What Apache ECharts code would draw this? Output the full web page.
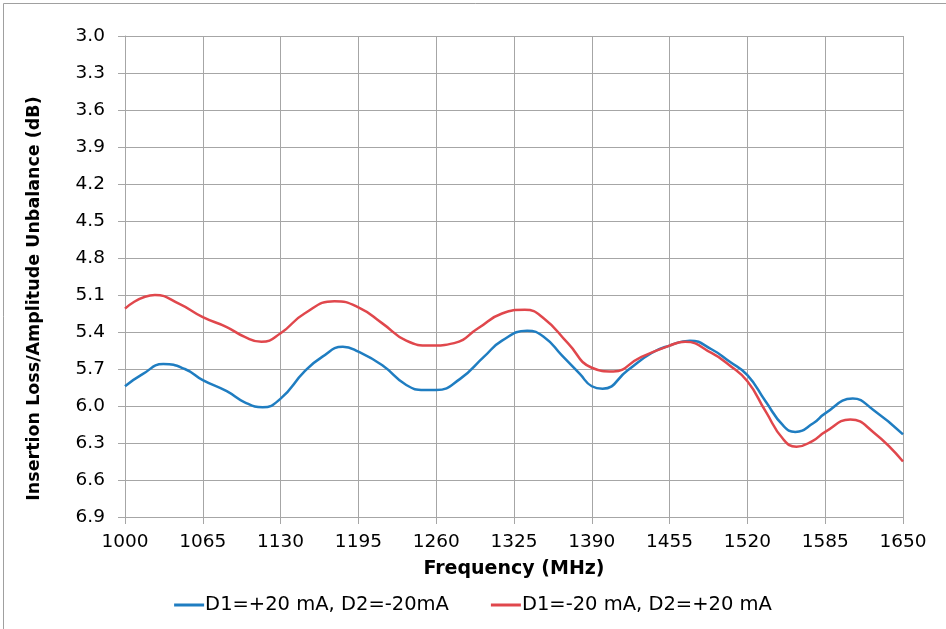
<!DOCTYPE html>
<html><head><meta charset="utf-8">
<script src="https://cdn.jsdelivr.net/npm/echarts@6/dist/echarts.min.js"></script>
<style>html,body{margin:0;padding:0;background:#fff}#c{width:946px;height:629px}</style>
</head><body><div id="c"></div>
<script>
const seriesNames = ['D1=+20 mA, D2=-20mA', 'D1=-20 mA, D2=+20 mA'];
const blueFreq = [1000,1015,1032,1050,1065,1085,1100,1115,1130,1150,1165,1182,1195,1215,1235,1250,1260,1280,1300,1315,1336,1350,1365,1380,1390,1399,1420,1440,1455,1472,1490,1505,1520,1535,1550,1560,1575,1585,1608,1625,1650];
const blueVals = [5.84,5.74,5.66,5.70,5.79,5.88,5.97,6.01,5.94,5.72,5.60,5.52,5.56,5.67,5.83,5.87,5.87,5.78,5.60,5.47,5.39,5.44,5.59,5.74,5.84,5.86,5.71,5.57,5.51,5.47,5.54,5.64,5.75,5.96,6.16,6.21,6.14,6.06,5.94,6.03,6.23];
const redFreq = [1000,1025,1045,1065,1085,1100,1114,1130,1150,1175,1195,1215,1235,1255,1275,1295,1315,1334,1350,1370,1390,1408,1430,1455,1468,1490,1505,1520,1535,1550,1561,1575,1585,1606,1625,1650];
const redVals = [5.21,5.10,5.17,5.28,5.36,5.44,5.48,5.41,5.25,5.15,5.20,5.33,5.47,5.51,5.49,5.37,5.25,5.22,5.29,5.49,5.69,5.72,5.61,5.51,5.48,5.57,5.67,5.80,6.04,6.27,6.33,6.28,6.21,6.11,6.21,6.45];
const xMin = 1000, xMax = 1650, xStep = 65;
const yMin = 3.0, yMax = 6.9, yStep = 0.3;

const chart = echarts.init(document.getElementById('c'));
const font = 'Verdana, "DejaVu Sans", sans-serif';
const gridCol = '#a6a6a6';
chart.setOption({
  animation: false,
  backgroundColor: '#fff',
  graphic: [{type:'rect', shape:{x:3.5,y:3.5,width:960,height:640}, style:{fill:'none', stroke:'#a0a0a0', lineWidth:1}}],
  grid: {left:125, right:43, top:36, bottom:112, containLabel:false},
  legend: {
    bottom: 9, left: 'center', itemGap: 42, itemWidth: 30, itemHeight: 3, icon: 'rect',
    textStyle: {fontFamily: font, fontSize: 19.5, color: '#000', padding: [0,0,0,-4]},
    data: seriesNames
  },
  xAxis: {
    type: 'value', min: xMin, max: xMax, interval: xStep,
    name: 'Frequency (MHz)', nameLocation: 'middle', nameGap: 43,
    nameTextStyle: {fontFamily: font, fontSize: 19, fontWeight: 'bold', color: '#000'},
    axisLine: {lineStyle: {color: gridCol}},
    axisTick: {show: true, length: 7, lineStyle: {color: gridCol}},
    axisLabel: {fontFamily: font, fontSize: 18.5, color: '#000', margin: 16, formatter: v => String(v)},
    splitLine: {show: true, lineStyle: {color: gridCol, width: 1}}
  },
  yAxis: {
    type: 'value', inverse: true, min: yMin, max: yMax, interval: yStep,
    name: 'Insertion Loss/Amplitude Unbalance (dB)', nameLocation: 'middle', nameGap: 82,
    nameTextStyle: {fontFamily: font, fontSize: 17.5, fontWeight: 'bold', color: '#000', padding: [0, 44, 0, 0]},
    axisLine: {show: true, lineStyle: {color: gridCol}},
    axisTick: {show: true, length: 7, lineStyle: {color: gridCol}},
    axisLabel: {fontFamily: font, fontSize: 18.5, color: '#000', margin: 20, formatter: v => v.toFixed(1)},
    splitLine: {show: true, lineStyle: {color: gridCol, width: 1}}
  },
  series: [
    {name: seriesNames[0], type: 'line', smooth: 0.5, showSymbol: false,
     lineStyle: {color: '#1f7dc1', width: 2.5}, itemStyle: {color: '#1f7dc1'},
     data: blueFreq.map((f, i) => [f, blueVals[i]])},
    {name: seriesNames[1], type: 'line', smooth: 0.5, showSymbol: false,
     lineStyle: {color: '#e0474c', width: 2.5}, itemStyle: {color: '#e0474c'},
     data: redFreq.map((f, i) => [f, redVals[i]])}
  ]
});
</script></body></html>
